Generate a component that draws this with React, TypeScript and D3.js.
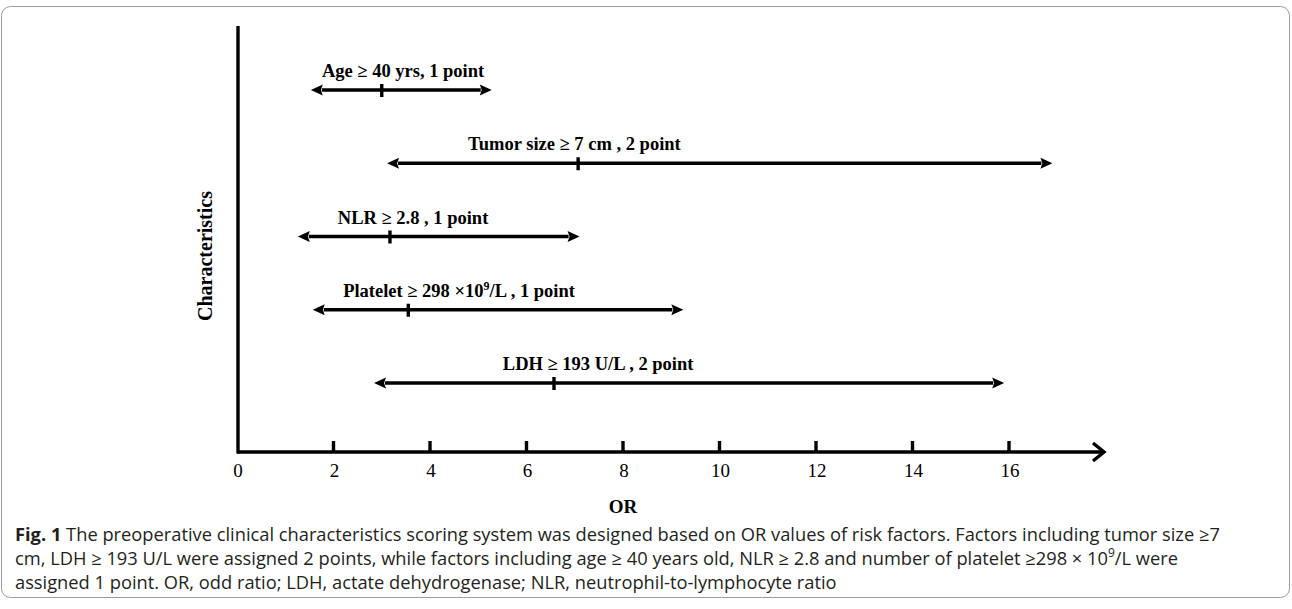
import { useEffect, useRef } from "react"
import * as d3 from "d3"

// rows, top to bottom
const factors = ["Age", "Tumor", "NLR", "Platelet", "LDH"]
const labels = [
  "Age ≥ 40 yrs, 1 point",
  "Tumor size ≥ 7 cm , 2 point",
  "NLR ≥ 2.8 , 1 point",
  "Platelet ≥ 298 ×10|9|/L , 1 point",
  "LDH ≥ 193 U/L , 2 point",
]
const orValue = [3.0, 7.07, 3.17, 3.55, 6.57]
const ciLow = [1.53, 3.11, 1.26, 1.57, 2.84]
const ciHigh = [5.28, 16.9, 7.1, 9.25, 15.9]
// where each label starts, in OR units
const labelAt = [1.76, 4.79, 2.09, 2.2, 5.51]

const xTicks = [0, 2, 4, 6, 8, 10, 12, 14, 16]

const captionLines = [
  "The preoperative clinical characteristics scoring system was designed based on OR values of risk factors. Factors including tumor size ≥7",
  "cm, LDH ≥ 193 U/L were assigned 2 points, while factors including age ≥ 40 years old, NLR ≥ 2.8 and number of platelet ≥298 × 10|9|/L were",
  "assigned 1 point. OR, odd ratio; LDH, actate dehydrogenase; NLR, neutrophil-to-lymphocyte ratio",
]

const W = 1292
const H = 609
const serif = "'Liberation Serif', 'Times New Roman', serif"
const sans = "'Open Sans', 'Noto Sans', sans-serif"

// text with "|9|" marking a superscript
function addRich(sel, str, supSize) {
  str.split("|").forEach((part, i) => {
    const t = sel.append("tspan").text(part)
    if (i % 2 === 1) t.attr("baseline-shift", "super").attr("font-size", supSize)
  })
}

export default function App() {
  const svgRef = useRef(null)

  useEffect(() => {
    const svg = d3.select(svgRef.current)
    svg.selectAll("*").remove()

    const x = d3.scaleLinear().domain([0, 16]).range([237, 1009])
    const y = d3.scalePoint().domain(factors).range([90, 383])
    const axisY = 452
    const sw = 3.4

    // frame
    svg.append("rect")
      .attr("x", 1.5).attr("y", 6.5)
      .attr("width", W - 4).attr("height", 591)
      .attr("rx", 9)
      .attr("fill", "none")
      .attr("stroke", "#9c9c9c")
      .attr("stroke-width", 1)

    const g = svg.append("g")

    // y axis
    g.append("line")
      .attr("x1", x(0) + 1).attr("x2", x(0) + 1)
      .attr("y1", 26).attr("y2", axisY + 1.5)
      .attr("stroke", "#000").attr("stroke-width", sw)

    // x axis with open arrow
    const xEnd = 1104
    g.append("line")
      .attr("x1", x(0)).attr("x2", xEnd - 1)
      .attr("y1", axisY).attr("y2", axisY)
      .attr("stroke", "#000").attr("stroke-width", sw)
    g.append("path")
      .attr("d", `M${xEnd - 11},${axisY - 9} L${xEnd},${axisY} L${xEnd - 11},${axisY + 9}`)
      .attr("fill", "none").attr("stroke", "#000").attr("stroke-width", sw)
      .attr("stroke-linejoin", "miter")

    g.selectAll(".xtick")
      .data(xTicks.filter(d => d > 0))
      .join("line")
      .attr("x1", d => x(d)).attr("x2", d => x(d))
      .attr("y1", axisY).attr("y2", axisY - 11)
      .attr("stroke", "#000").attr("stroke-width", sw)

    g.selectAll(".xlab")
      .data(xTicks)
      .join("text")
      .attr("x", d => x(d) + 1)
      .attr("y", axisY + 25)
      .attr("text-anchor", "middle")
      .attr("font-family", serif)
      .attr("font-size", 19)
      .text(d => d)

    g.append("text")
      .attr("x", x(8))
      .attr("y", 513)
      .attr("text-anchor", "middle")
      .attr("font-family", serif)
      .attr("font-weight", "bold")
      .attr("font-size", 19)
      .text("OR")

    g.append("text")
      .attr("transform", `translate(212,256) rotate(-90)`)
      .attr("text-anchor", "middle")
      .attr("font-family", serif)
      .attr("font-weight", "bold")
      .attr("font-size", 20)
      .text("Characteristics")

    // double-headed interval arrows
    const head = 12
    const half = 5.5
    factors.forEach((f, i) => {
      const yy = y(f)
      const x0 = x(ciLow[i])
      const x1 = x(ciHigh[i])
      g.append("line")
        .attr("x1", x0 + head - 1).attr("x2", x1 - head + 1)
        .attr("y1", yy).attr("y2", yy)
        .attr("stroke", "#000").attr("stroke-width", sw)
      g.append("path")
        .attr("d", `M${x0},${yy} L${x0 + head},${yy - half} L${x0 + head - 2},${yy} L${x0 + head},${yy + half} Z`)
        .attr("fill", "#000")
      g.append("path")
        .attr("d", `M${x1},${yy} L${x1 - head},${yy - half} L${x1 - head + 2},${yy} L${x1 - head},${yy + half} Z`)
        .attr("fill", "#000")
      g.append("line")
        .attr("x1", x(orValue[i])).attr("x2", x(orValue[i]))
        .attr("y1", yy - 6).attr("y2", yy + 7)
        .attr("stroke", "#000").attr("stroke-width", sw)

      const t = g.append("text")
        .attr("x", x(labelAt[i]))
        .attr("y", yy - 13)
        .attr("font-family", serif)
        .attr("font-weight", "bold")
        .attr("font-size", 18.5)
      addRich(t, labels[i], 12)
    })

    // caption
    const cap = svg.append("g")
      .attr("font-family", sans)
      .attr("font-size", 18.3)
      .attr("fill", "#231f20")
    captionLines.forEach((line, i) => {
      const t = cap.append("text")
        .attr("x", 15)
        .attr("y", 541 + i * 24)
      if (i === 0) {
        t.append("tspan").attr("font-weight", "bold").text("Fig. 1")
        t.append("tspan").text(" ")
      }
      addRich(t, line, 12)
    })
  }, [])

  return (
    <div>
      <style>{`body{margin:0}`}</style>
      <svg ref={svgRef} width={W} height={H} style={{ display: "block", background: "#fff" }} />
    </div>
  )
}
